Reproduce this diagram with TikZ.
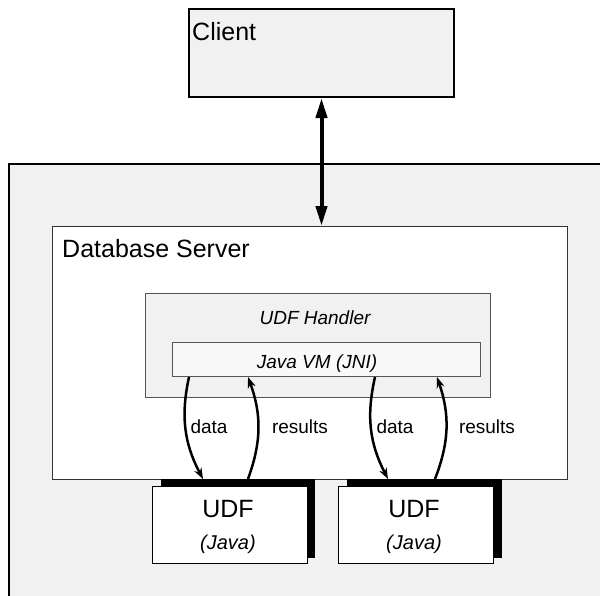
\documentclass[tikz,border=0pt]{standalone}
\usepackage{fontspec}
\setmainfont{Liberation Sans}
\usetikzlibrary{arrows.meta, positioning}
\definecolor{panel}{HTML}{F1F1F1}
\definecolor{vmfill}{HTML}{F9F9F9}
\definecolor{edge}{HTML}{555555}

\begin{document}
\begin{tikzpicture}[x=1pt, y=-1pt, >=Stealth]

            % Define styles
            \tikzstyle{box} = [rectangle, anchor=north west, inner sep=0pt]
            \tikzstyle{bigtext} = [inner sep=0pt, font=\fontsize{25}{30}\selectfont]
            \tikzstyle{smalltext} = [inner sep=0pt, font=\fontsize{19}{23}\selectfont]
            \tikzstyle{link} = [{Triangle[length=20pt,width=11pt]}-{Triangle[length=20pt,width=11pt]}, line width=4pt]
            \tikzstyle{flow} = [-{Stealth[length=11pt,width=8pt]}, line width=2.5pt]

            \useasboundingbox (0,0) rectangle (600,595);
            \fill[white] (0,0) rectangle (600,595);

            % Boxes
            \node[box, draw, line width=2pt, fill=panel, minimum width=265pt, minimum height=88pt] (client) at (188,8) {};
            \node[box, draw, line width=2pt, fill=panel, minimum width=640pt, minimum height=480pt] (host) at (8,163) {};
            \node[box, draw=black!80, line width=1pt, fill=white, minimum width=515pt, minimum height=253pt] (server) at (52,226) {};
            \node[box, draw=edge, line width=1pt, fill=panel, minimum width=345pt, minimum height=104pt] (handler) at (145,293) {};
            \node[box, draw=edge, line width=1pt, fill=vmfill, minimum width=308pt, minimum height=34pt] (jvm) at (172,342) {};

            % UDFs with shadow
            \node[box, fill=black, minimum width=154pt, minimum height=79pt] (shadowA) at (161,479) {};
            \node[box, draw, line width=1pt, fill=white, minimum width=155pt, minimum height=77pt] (udfA) at (152,486) {};
            \node[box, fill=black, minimum width=155pt, minimum height=79pt] (shadowB) at (347,479) {};
            \node[box, draw, line width=1pt, fill=white, minimum width=155pt, minimum height=77pt] (udfB) at (338,486) {};

            % Texts
            \node[bigtext, anchor=base west] (clienttxt) at (192,40) {Client};
            \node[bigtext, anchor=base west] (servertxt) at (62,257) {Database Server};
            \node[smalltext, anchor=base] (handlertxt) at (315,324) {\itshape UDF Handler};
            \node[smalltext, anchor=base] (jvmtxt) at (317,368) {\itshape Java VM (JNI)};
            \node[bigtext, anchor=base] (udfAtxt) at (228,517) {UDF};
            \node[inner sep=0pt, font=\fontsize{20}{24}\selectfont\itshape, anchor=base] (javaA) at (228,549) {(Java)};
            \node[bigtext, anchor=base] (udfBtxt) at (414,517) {UDF};
            \node[inner sep=0pt, font=\fontsize{20}{24}\selectfont\itshape, anchor=base] (javaB) at (414,549) {(Java)};

            % Client <-> Server
            \draw[link] (client.south) -- (client.south |- server.north);

            % Data flows
            \draw[flow] ([xshift=17pt]jvm.south west) to[bend right=20] ([xshift=42pt]shadowA.north west);
            \draw[flow] ([xshift=87pt]shadowA.north west) to[bend right=20] ([xshift=76pt]jvm.south west);
            \draw[flow] ([xshift=203pt]jvm.south west) to[bend right=20] ([xshift=41pt]shadowB.north west);
            \draw[flow] ([xshift=88pt]shadowB.north west) to[bend right=20] ([xshift=265pt]jvm.south west);

            \node[smalltext, anchor=base] (dataA) at (209,433) {data};
            \node[smalltext, anchor=base] (resultsA) at (300,433) {results};
            \node[smalltext, anchor=base] (dataB) at (395,433) {data};
            \node[smalltext, anchor=base] (resultsB) at (487,433) {results};

        \end{tikzpicture}
\end{document}
